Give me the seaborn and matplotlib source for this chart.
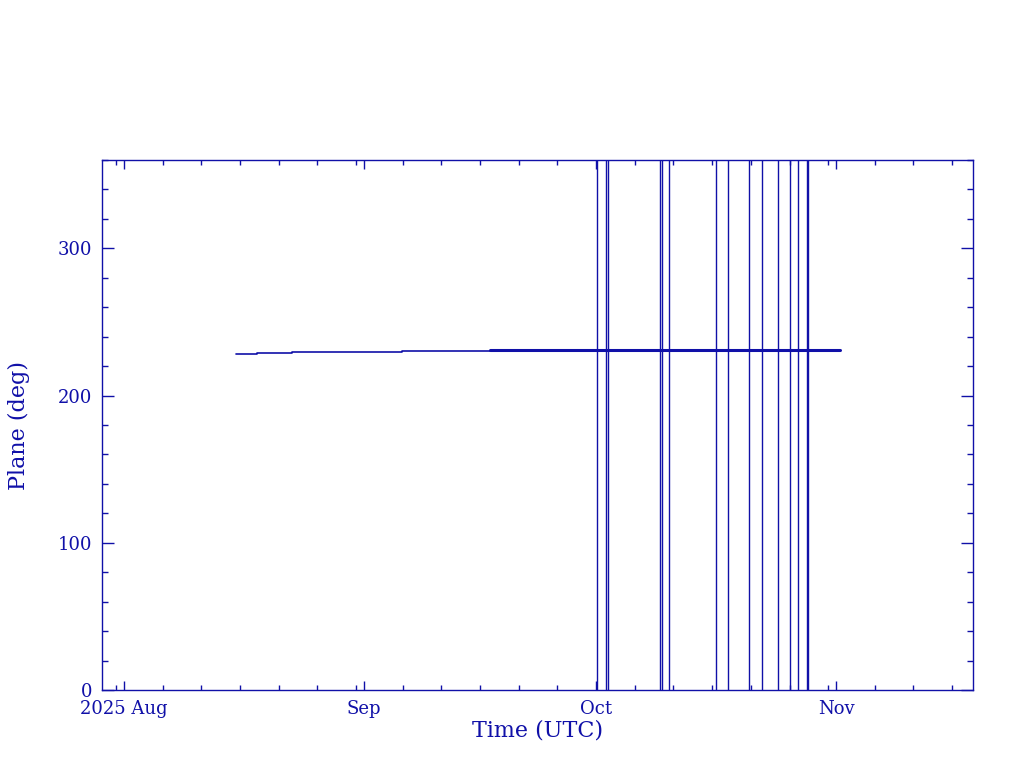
import seaborn as sns
import matplotlib.pyplot as plt
import matplotlib.dates as mdates
import matplotlib.ticker as mticker
import pandas as pd

# staircase part of the plane angle (deg): value holds from each start time
step_times = ['2025-08-15 11:00', '2025-08-18 04:30', '2025-08-22 17:00',
              '2025-08-28 09:30', '2025-09-05 22:00', '2025-09-17 07:00']
step_values = [228.0, 228.7, 229.4, 229.8, 230.5, 230.5]

# denser late part
late_times = ['2025-09-17 07:00', '2025-11-01 12:30']
late_values = [230.9, 230.9]

# wrap-around glitches drawn as full-height jumps
spike_times = ['2025-10-01 04:00', '2025-10-02 06:00', '2025-10-02 13:00',
               '2025-10-09 05:00', '2025-10-09 12:30', '2025-10-10 11:00',
               '2025-10-16 12:30', '2025-10-18 02:00', '2025-10-20 19:00',
               '2025-10-22 11:30', '2025-10-24 13:00', '2025-10-26 02:30',
               '2025-10-27 03:00', '2025-10-28 05:30', '2025-10-28 10:00']

blue = '#1010A8'

sns.set_style("ticks")
plt.rcParams['font.family'] = ['DejaVu Serif', 'DejaVu Sans']

fig = plt.figure(figsize=(10.24, 7.68), dpi=100)
ax = fig.add_axes([102/1024, 78/768, 871/1024, 530/768])

steps = pd.DataFrame({'time': pd.to_datetime(step_times), 'plane': step_values})
late = pd.DataFrame({'time': pd.to_datetime(late_times), 'plane': late_values})

spike_rows = []
for i, t in enumerate(pd.to_datetime(spike_times)):
    spike_rows.append({'time': t, 'plane': 0.0, 'spike': i})
    spike_rows.append({'time': t, 'plane': 360.0, 'spike': i})
spikes = pd.DataFrame(spike_rows)

sns.lineplot(data=steps, x='time', y='plane', color=blue, lw=1.2,
             drawstyle='steps-post', estimator=None, ax=ax)
sns.lineplot(data=late, x='time', y='plane', color=blue, lw=2.2,
             estimator=None, ax=ax)
sns.lineplot(data=spikes, x='time', y='plane', units='spike', color=blue,
             lw=1.0, estimator=None, ax=ax)

ax.set_xlim(pd.Timestamp('2025-07-29 03:45'), pd.Timestamp('2025-11-18 17:00'))
ax.set_ylim(0, 360)

ax.xaxis.set_major_locator(mdates.MonthLocator())
ax.xaxis.set_minor_locator(mdates.DayLocator(bymonthday=[1, 6, 11, 16, 21, 26, 31]))


def month_label(x, pos):
    d = mdates.num2date(x)
    if d.month == 8:
        return '2025 Aug'
    return d.strftime('%b')


ax.xaxis.set_major_formatter(mticker.FuncFormatter(month_label))
ax.yaxis.set_major_locator(mticker.MultipleLocator(100))
ax.yaxis.set_minor_locator(mticker.MultipleLocator(20))

ax.tick_params(which='both', direction='in', top=True, right=True,
               color=blue, labelcolor=blue, width=1.0, labelsize=13)
ax.tick_params(axis='x', which='major', length=6.5, pad=7)
ax.tick_params(axis='x', which='minor', length=3.5)
ax.tick_params(axis='y', which='major', length=8.6, pad=7)
ax.tick_params(axis='y', which='minor', length=4.5)

for s in ax.spines.values():
    s.set_color(blue)
    s.set_linewidth(1.0)

ax.set_xlabel('Time (UTC)', color=blue, fontsize=16, labelpad=1)
ax.set_ylabel('Plane (deg)', color=blue, fontsize=16, labelpad=20)

fig.savefig('out.png', dpi=100)
